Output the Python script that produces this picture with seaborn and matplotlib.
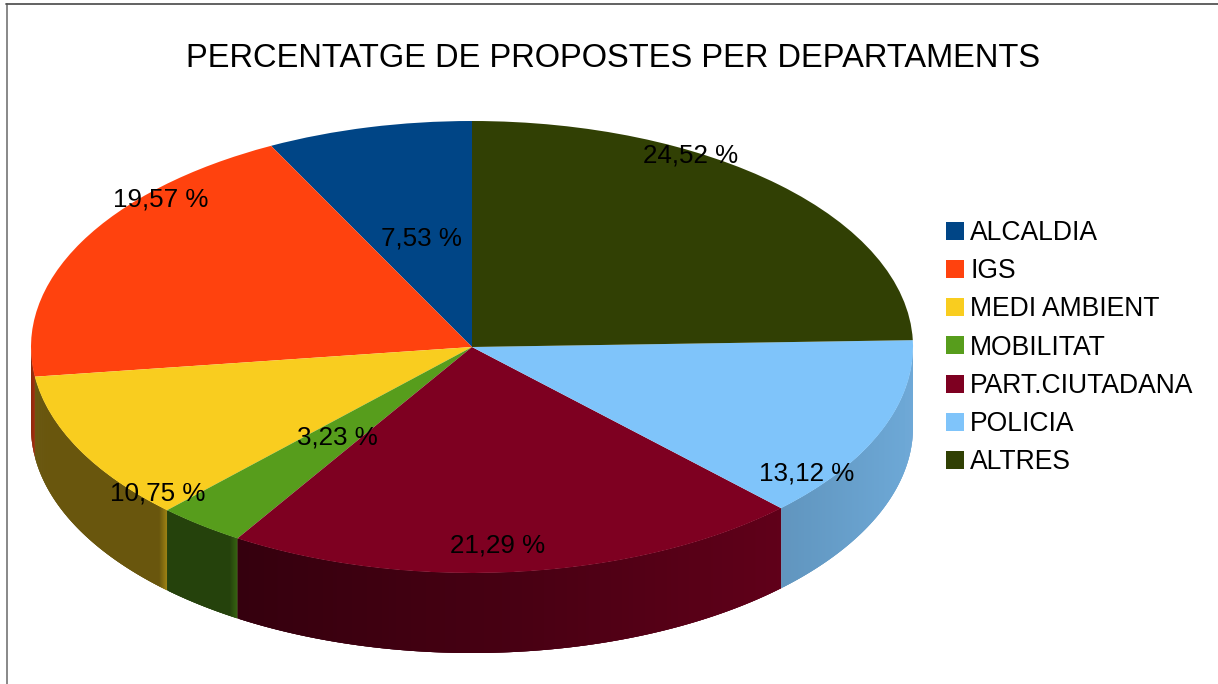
import numpy as np
import matplotlib
matplotlib.use("Agg")
import matplotlib.pyplot as plt
from matplotlib.lines import Line2D
from matplotlib.colors import to_rgb
import seaborn as sns

# ---- data ----
departments = ["ALCALDIA", "IGS", "MEDI AMBIENT", "MOBILITAT", "PART.CIUTADANA", "POLICIA", "ALTRES"]
percentages = [7.53, 19.57, 10.75, 3.23, 21.29, 13.12, 24.52]
value_labels = ["7,53 %", "19,57 %", "10,75 %", "3,23 %", "21,29 %", "13,12 %", "24,52 %"]
slice_colors = ["#004586", "#ff420e", "#f9cd1f", "#579d1c", "#7e0021", "#7fc4fa", "#314004"]
title_text = "PERCENTATGE DE PROPOSTES PER DEPARTAMENTS"

# ---- layout (pixels of the 1218x684 canvas) ----
W, H = 1218, 684
cx, cy, rx, ry, depth = 472.0, 347.0, 441.0, 226.0, 80.0
label_px = [(421, 239), (161, 200), (158, 494), (337, 438), (498, 545), (807, 473), (691, 156)]

sns.set_theme(style="white")
plt.rcParams["font.family"] = ["Liberation Sans", "DejaVu Sans"]
plt.rcParams["text.color"] = "black"
palette = sns.color_palette(slice_colors)

fig = plt.figure(figsize=(W / 100, H / 100), dpi=100, facecolor="white")
ax = fig.add_axes([0, 0, 1, 1])

# Top face: a pie whose unit circle is stretched to an ellipse by the axes limits
wedges, _ = ax.pie(percentages, colors=palette, startangle=90, counterclock=True, radius=1,
                   center=(0, 0), frame=True, wedgeprops=dict(linewidth=0, zorder=5, antialiased=True))
ax.set_aspect("auto")
ax.set_xlim(-cx / rx, (W - cx) / rx)
ax.set_ylim((cy - H) / ry, cy / ry)
ax.set_axis_off()

# Side wall: strips under the front half of the ellipse, each painted over the previous one
d = depth / ry
shares = np.array(percentages) / np.sum(percentages)
edges = 90 + 360 * np.concatenate([[0], np.cumsum(shares)])


def shade_at(xpx):
    return np.interp(xpx, [30, 240, 500, 780, 913], [0.42, 0.42, 0.56, 0.76, 0.86])


for color, a0, a1 in zip(palette, edges[:-1], edges[1:]):
    lo, hi = max(a0, 180), min(a1, 360)
    if hi <= lo:
        continue
    steps = np.linspace(lo, hi, max(3, int((hi - lo) * 8)))
    base = np.array(to_rgb(color))
    xend = cx + rx * np.cos(np.radians(hi))
    for t0, t1 in zip(steps[:-1], steps[1:]):
        tt = np.radians(np.linspace(t0, min(t1 + 2 * (t1 - t0), hi), 8))
        xs = np.cos(tt)
        ys = np.sin(tt)
        xpx = cx + rx * np.cos(np.radians((t0 + t1) / 2))
        f = shade_at(xpx)
        gap = xend - xpx
        if xpx < 300 and gap < 8:      # bright rim at a slice's right edge
            f += 0.22 * (1 - gap / 8)
        c = np.clip(base * f, 0, 1)
        ax.fill(np.r_[xs, xs[::-1]], np.r_[ys, ys[::-1] - d], color=c, lw=0, zorder=2)

# Value labels
for text, (px, py) in zip(value_labels, label_px):
    fig.text(px / W, 1 - py / H, text, ha="center", va="center", fontsize=18.7, color="black", zorder=10)

# Title
fig.text(613 / W, 1 - 58.5 / H, title_text, ha="center", va="center", fontsize=23.5, color="black")

# Legend
handles = [Line2D([], [], marker="s", ls="", ms=12.6, mfc=c, mec=c, mew=0) for c in palette]
fig.legend(handles, departments, loc="upper left", bbox_to_anchor=(943 / W, 1 - 220 / H), frameon=False,
           fontsize=19.1, handlelength=0.9, handletextpad=0.13, labelspacing=0.46, borderpad=0, borderaxespad=0,
           labelcolor="black")

# Outer frame (left and top edges only are inside the canvas)
fig.add_artist(Line2D([6.5 / W, 6.5 / W], [0, 1 - 4 / H], color="#7f7f7f", lw=1.3))
fig.add_artist(Line2D([6 / W, 1], [1 - 4 / H, 1 - 4 / H], color="#555555", lw=1.3))

fig.savefig("out.png", dpi=100, facecolor="white")
